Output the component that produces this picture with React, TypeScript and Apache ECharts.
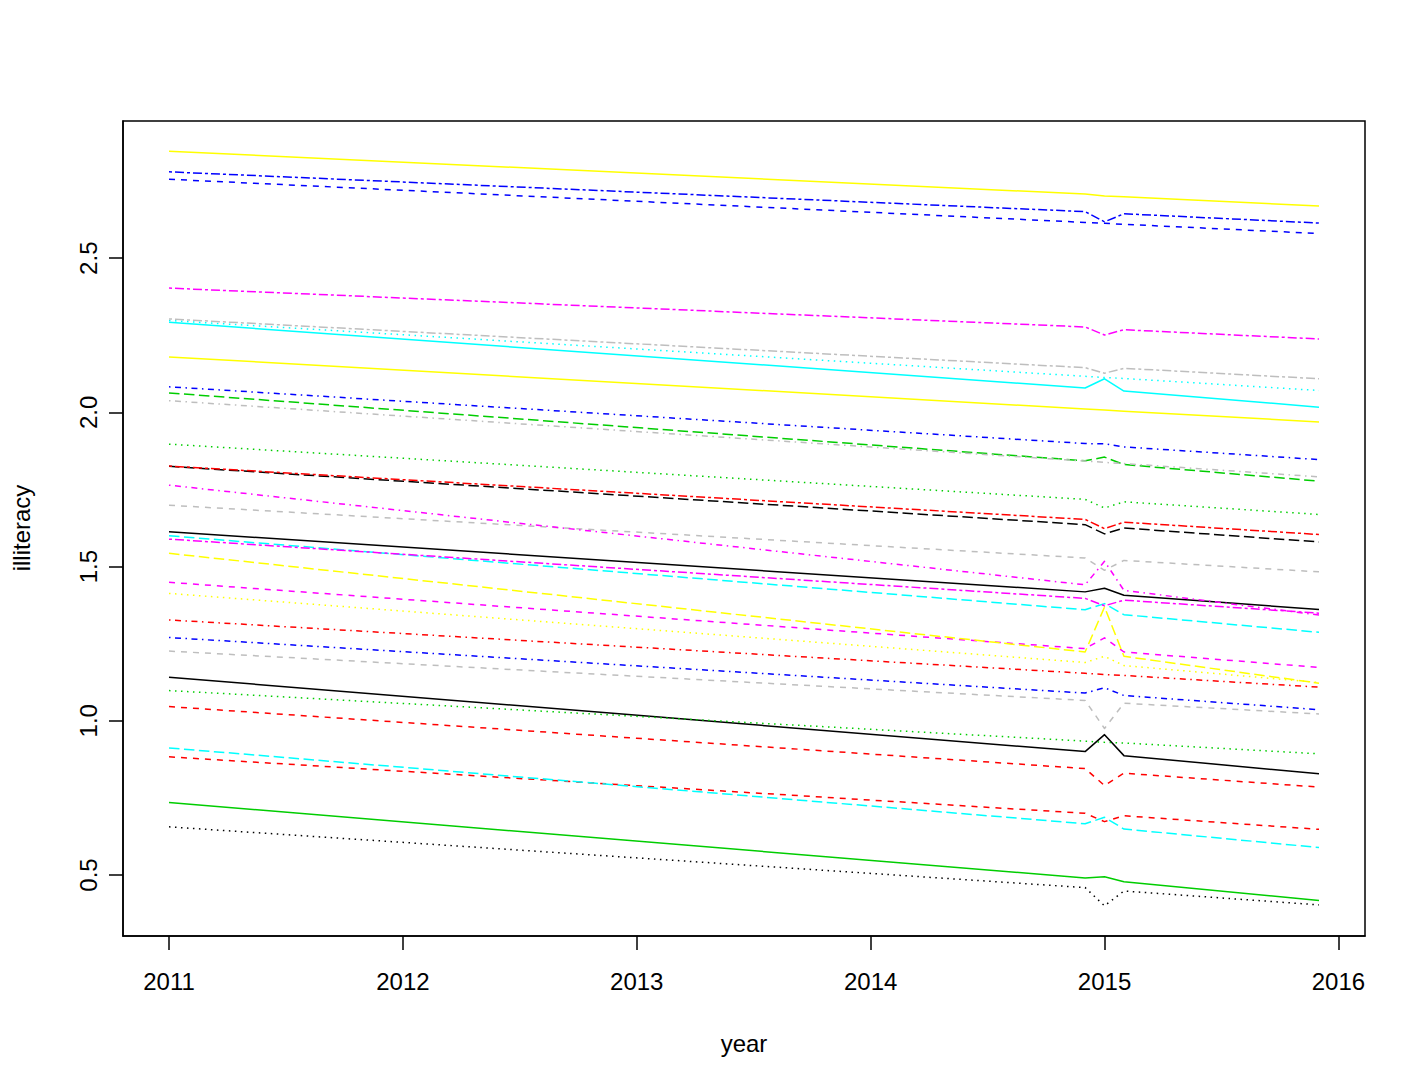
import React, { useEffect, useRef } from "react";
import * as echarts from "echarts";

// x positions of the visible vertices (years)
const years = [2011, 2014.917, 2015, 2015.083, 2015.917];
const xTicks = [2011, 2012, 2013, 2014, 2015, 2016];
const yTicks = [0.5, 1.0, 1.5, 2.0, 2.5];

// series values at the years above
const s01 = [1.613, 1.418, 1.430, 1.407, 1.361];
const s02 = [1.046, 0.845, 0.790, 0.830, 0.785];
const s03 = [1.897, 1.718, 1.690, 1.710, 1.669];
const s04 = [2.083, 1.899, 1.898, 1.888, 1.847];
const s05 = [1.600, 1.360, 1.380, 1.344, 1.287];
const s06 = [2.403, 2.277, 2.251, 2.268, 2.238];
const s07 = [2.847, 2.708, 2.702, 2.699, 2.669];
const s08 = [1.699, 1.528, 1.488, 1.520, 1.483];
const s09 = [0.656, 0.459, 0.400, 0.448, 0.403];
const s10 = [1.327, 1.154, 1.150, 1.147, 1.109];
const s11 = [2.063, 1.843, 1.855, 1.831, 1.777];
const s12 = [2.780, 2.651, 2.618, 2.644, 2.614];
const s13 = [2.292, 2.079, 2.109, 2.069, 2.017];
const s14 = [1.449, 1.234, 1.269, 1.223, 1.173];
const s15 = [1.413, 1.189, 1.209, 1.179, 1.124];
const s16 = [2.038, 1.842, 1.838, 1.834, 1.791];
const s17 = [1.825, 1.636, 1.606, 1.625, 1.580];
const s18 = [1.826, 1.653, 1.623, 1.644, 1.604];
const s19 = [0.735, 0.490, 0.494, 0.478, 0.417];
const s20 = [2.756, 2.616, 2.613, 2.610, 2.580];
const s21 = [2.298, 2.117, 2.113, 2.110, 2.071];
const s22 = [1.764, 1.441, 1.517, 1.423, 1.343];
const s23 = [1.543, 1.223, 1.369, 1.209, 1.122];
const s24 = [2.303, 2.145, 2.127, 2.143, 2.109];
const s25 = [1.141, 0.900, 0.955, 0.887, 0.828];
const s26 = [0.883, 0.700, 0.673, 0.692, 0.648];
const s27 = [1.098, 0.934, 0.930, 0.928, 0.893];
const s28 = [1.270, 1.090, 1.107, 1.082, 1.036];
const s29 = [0.912, 0.666, 0.687, 0.649, 0.589];
const s30 = [1.589, 1.397, 1.373, 1.391, 1.349];
const s31 = [2.180, 2.011, 2.008, 2.004, 1.969];
const s32 = [1.226, 1.066, 0.975, 1.057, 1.022];

const seriesValues = [
  s01, s02, s03, s04, s05, s06, s07, s08, s09, s10, s11, s12, s13, s14, s15, s16,
  s17, s18, s19, s20, s21, s22, s23, s24, s25, s26, s27, s28, s29, s30, s31, s32,
];

// R-like palette and line types (cycled col 1:8, lty 1:6)
const palette = ["#000000", "#FF0000", "#00CD00", "#0000FF", "#00FFFF", "#FF00FF", "#FFFF00", "#BEBEBE"];
const ltys: (string | number[])[] = [
  "solid",
  [6, 6],
  [1.5, 4.5],
  [1.5, 4.5, 6, 4.5],
  [10.5, 4.5],
  [3, 3, 9, 3],
];

const FONT = "'Liberation Sans', Arial, Helvetica, sans-serif";

export default function App() {
  const ref = useRef<HTMLDivElement>(null);
  useEffect(() => {
    document.body.style.margin = "0";
    if (!ref.current) return;
    const chart = echarts.init(ref.current, undefined, { renderer: "svg" });

    const allY = seriesValues.flat();
    const yLo = Math.min(...allY);
    const yHi = Math.max(...allY);
    const yPad = (yHi - yLo) * 0.04;
    const xLo = years[0];
    const xHi = years[years.length - 1];
    const xPad = (xHi - xLo) * 0.04;

    const series = seriesValues.map((vals, i) => ({
      type: "line",
      data: vals.map((v, j) => [years[j], v]),
      showSymbol: false,
      symbol: "none",
      silent: true,
      z: 2 + i * 0.01,
      lineStyle: {
        color: palette[i % 8],
        width: 1.5,
        type: ltys[i % 6],
        cap: "butt",
        join: "round",
      },
    }));

    chart.setOption({
      animation: false,
      backgroundColor: "#ffffff",
      grid: {
        left: 123,
        top: 121,
        width: 1242,
        height: 815,
        show: true,
        borderColor: "#000",
        borderWidth: 1.5,
        backgroundColor: "transparent",
      },
      xAxis: {
        type: "value",
        min: xLo - xPad,
        max: xHi + xPad,
        axisLine: { show: true, lineStyle: { color: "#000", width: 1.5 } },
        axisTick: {
          show: true,
          length: 14,
          inside: false,
          customValues: xTicks,
          lineStyle: { color: "#000", width: 1.5 },
        },
        axisLabel: {
          customValues: xTicks,
          margin: 33,
          fontSize: 24,
          fontFamily: FONT,
          color: "#000",
          formatter: (v: number) => String(Math.round(v)),
        },
        splitLine: { show: false },
      },
      yAxis: {
        type: "value",
        min: yLo - yPad,
        max: yHi + yPad,
        axisLine: { show: true, lineStyle: { color: "#000", width: 1.5 } },
        axisTick: {
          show: true,
          length: 14,
          inside: false,
          customValues: yTicks,
          lineStyle: { color: "#000", width: 1.5 },
        },
        axisLabel: {
          customValues: yTicks,
          rotate: 90,
          margin: 23,
          fontSize: 24,
          fontFamily: FONT,
          color: "#000",
          formatter: (v: number) => v.toFixed(1),
        },
        splitLine: { show: false },
      },
      graphic: [
        {
          type: "text",
          x: 744,
          y: 1043,
          style: {
            text: "year",
            fontSize: 24,
            fontFamily: FONT,
            fill: "#000",
            textAlign: "center",
            textVerticalAlign: "middle",
          },
        },
        {
          type: "text",
          x: 21,
          y: 528,
          rotation: Math.PI / 2,
          style: {
            text: "illiteracy",
            fontSize: 24,
            fontFamily: FONT,
            fill: "#000",
            textAlign: "center",
            textVerticalAlign: "middle",
          },
        },
      ],
      series,
    });
    return () => chart.dispose();
  }, []);
  return <div ref={ref} style={{ width: 1428, height: 1090 }} />;
}
